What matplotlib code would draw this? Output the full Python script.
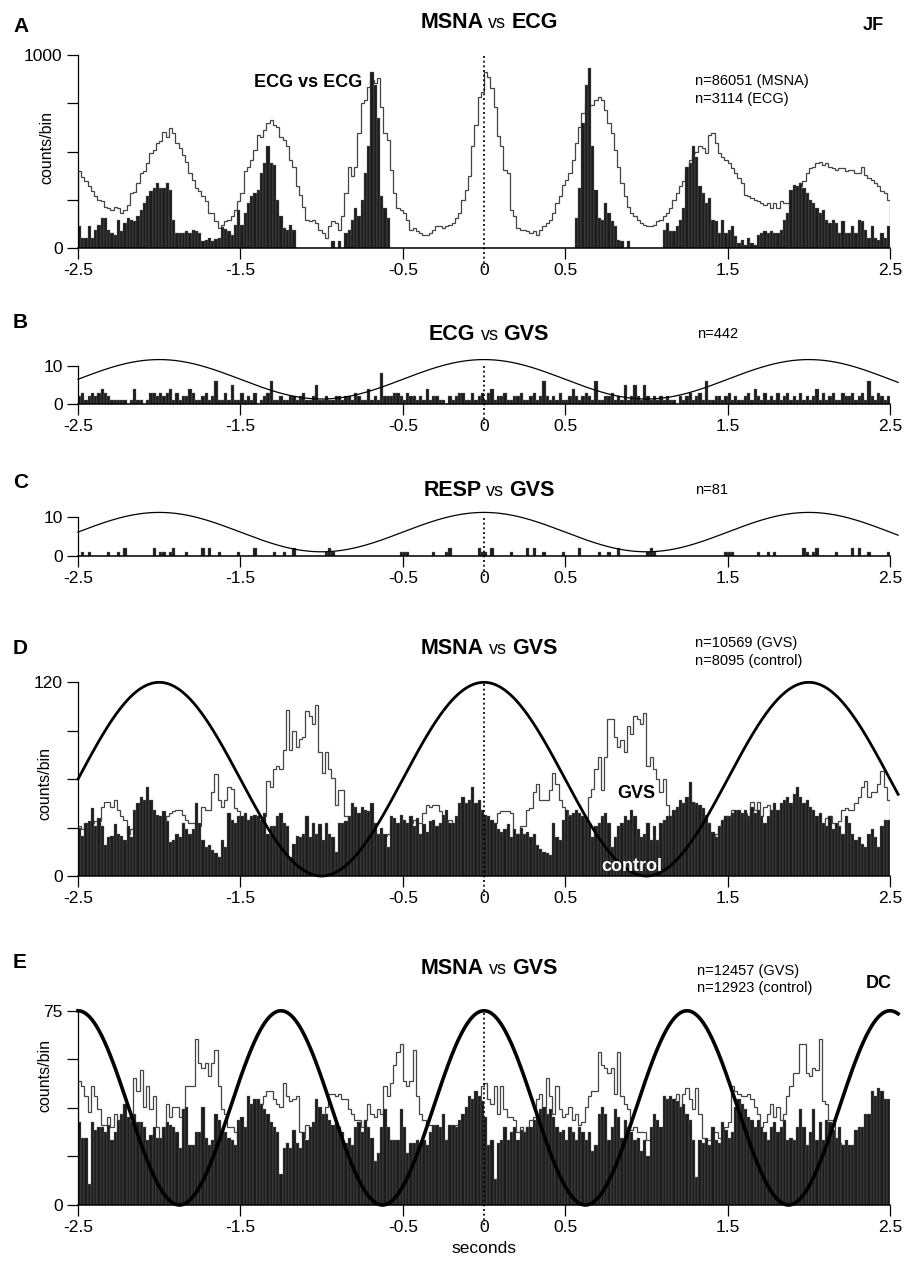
import numpy as np
import matplotlib
matplotlib.use('Agg')
import matplotlib.pyplot as plt

plt.rcParams['font.family'] = ['Liberation Sans', 'DejaVu Sans']
plt.rcParams['axes.unicode_minus'] = False

# ---------------- data: counts per 20 ms bin, -2.5 .. 2.5 s (250 bins) ----------------
bin_width = 0.02
x_ticks = [-2.5, -1.5, -0.5, 0, 0.5, 1.5, 2.5]
x_ticklabels = ['-2.5', '-1.5', '-0.5', '0', '0.5', '1.5', '2.5']

# A: MSNA vs ECG (outline) and ECG vs ECG (filled)
msna_ecg = [397, 370, 345, 319, 293, 267, 250, 241, 215, 207,
            195, 215, 207, 181, 198, 224, 284, 288, 336, 388,
            397, 440, 491, 509, 543, 552, 603, 577, 620, 595,
            543, 517, 483, 448, 388, 353, 310, 293, 267, 241,
            181, 181, 138, 103, 121, 138, 147, 164, 198, 241,
            284, 397, 422, 457, 509, 586, 577, 612, 646, 664,
            638, 629, 577, 560, 526, 457, 422, 319, 276, 215,
            147, 138, 147, 129, 95, 78, 52, 112, 138, 129,
            95, 164, 284, 422, 371, 422, 595, 750, 767, 836,
            871, 853, 879, 733, 595, 560, 405, 284, 207, 198,
            181, 147, 95, 103, 86, 78, 69, 69, 78, 95,
            112, 112, 103, 112, 121, 129, 155, 181, 250, 302,
            371, 526, 638, 784, 810, 914, 888, 828, 733, 578,
            526, 405, 388, 198, 164, 103, 95, 95, 86, 78,
            86, 69, 95, 112, 129, 147, 181, 233, 267, 328,
            353, 388, 457, 543, 629, 698, 750, 741, 741, 767,
            784, 767, 715, 646, 595, 509, 422, 336, 267, 215,
            181, 164, 147, 129, 121, 112, 112, 121, 138, 147,
            164, 181, 207, 250, 284, 319, 345, 388, 457, 491,
            500, 526, 517, 491, 586, 595, 543, 491, 474, 457,
            440, 414, 388, 362, 336, 276, 267, 259, 250, 241,
            233, 224, 233, 207, 233, 207, 241, 233, 233, 241,
            250, 302, 319, 345, 388, 414, 422, 440, 448, 431,
            440, 422, 414, 405, 414, 414, 397, 405, 405, 388,
            388, 422, 379, 362, 353, 336, 319, 293, 284, 250]

ecg_ecg = [112, 52, 52, 112, 52, 95, 121, 155, 155, 95,
           78, 69, 147, 86, 129, 155, 147, 138, 164, 198,
           233, 267, 293, 310, 336, 310, 310, 336, 302, 147,
           78, 78, 78, 86, 78, 95, 86, 78, 34, 43,
           52, 34, 47, 52, 109, 98, 86, 69, 121, 198,
           121, 181, 233, 267, 284, 302, 388, 440, 526, 440,
           431, 250, 164, 103, 95, 121, 95, 0, 0, 0,
           0, 0, 0, 0, 0, 0, 0, 0, 34, 0,
           34, 0, 78, 95, 147, 207, 164, 250, 388, 526,
           914, 845, 672, 267, 207, 155, 0, 0, 0, 0,
           0, 0, 0, 0, 0, 0, 0, 0, 0, 0,
           0, 0, 0, 0, 0, 0, 0, 0, 0, 0,
           0, 0, 0, 0, 0, 0, 0, 0, 0, 0,
           0, 0, 0, 0, 0, 0, 0, 0, 0, 0,
           0, 0, 0, 0, 0, 0, 0, 0, 0, 0,
           0, 0, 0, 155, 310, 646, 845, 931, 526, 302,
           155, 147, 233, 181, 138, 112, 43, 34, 0, 34,
           0, 0, 0, 0, 0, 0, 0, 0, 0, 0,
           95, 129, 86, 86, 112, 147, 207, 422, 440, 526,
           474, 319, 284, 233, 259, 147, 138, 78, 147, 78,
           95, 112, 60, 26, 43, 17, 52, 26, 17, 69,
           78, 86, 78, 86, 78, 78, 95, 147, 181, 302,
           328, 319, 336, 310, 284, 250, 233, 207, 181, 198,
           147, 129, 147, 129, 78, 138, 78, 78, 112, 78,
           147, 138, 95, 52, 112, 52, 43, 78, 52, 112]

# B: ECG vs GVS
ecg_gvs = [2, 3, 1, 2, 3, 2, 3, 4, 3, 2,
           1, 1, 1, 1, 1, 0, 1, 4, 1, 1,
           0, 1, 3, 3, 2, 3, 2, 3, 4, 1,
           3, 1, 2, 2, 4, 3, 1, 1, 2, 3,
           1, 2, 6, 1, 1, 3, 1, 5, 1, 1,
           3, 1, 2, 1, 3, 0, 1, 2, 3, 6,
           1, 1, 2, 1, 1, 2, 2, 1, 2, 3,
           1, 1, 2, 5, 1, 1, 2, 1, 1, 2,
           2, 1, 2, 2, 1, 3, 2, 1, 1, 4,
           1, 2, 1, 8, 2, 2, 2, 3, 3, 2,
           1, 3, 2, 2, 1, 2, 1, 4, 1, 2,
           2, 1, 1, 0, 2, 1, 2, 3, 3, 1,
           1, 3, 1, 2, 3, 1, 3, 4, 1, 2,
           2, 3, 1, 1, 2, 2, 3, 1, 1, 2,
           3, 1, 2, 6, 2, 1, 2, 1, 3, 1,
           1, 2, 4, 2, 1, 2, 3, 2, 1, 6,
           1, 1, 2, 2, 3, 1, 2, 1, 5, 1,
           2, 5, 2, 1, 5, 2, 1, 2, 1, 2,
           1, 2, 1, 1, 0, 2, 1, 2, 3, 1,
           2, 3, 1, 6, 1, 1, 2, 2, 1, 2,
           3, 1, 2, 1, 1, 2, 3, 1, 4, 2,
           1, 3, 1, 2, 1, 3, 1, 2, 3, 1,
           2, 1, 3, 1, 2, 1, 2, 4, 1, 3,
           1, 2, 3, 1, 1, 3, 2, 2, 3, 1,
           2, 3, 1, 6, 2, 1, 3, 2, 1, 2]

# C: RESP vs GVS
resp_gvs = [0, 1, 0, 1, 0, 0, 0, 0, 0, 1,
            0, 0, 1, 0, 2, 0, 0, 0, 0, 0,
            0, 0, 0, 2, 0, 1, 1, 0, 1, 2,
            0, 0, 0, 1, 0, 0, 0, 0, 2, 0,
            2, 0, 0, 1, 0, 0, 0, 0, 0, 1,
            0, 0, 0, 0, 2, 0, 0, 0, 0, 0,
            1, 0, 0, 1, 0, 0, 2, 0, 0, 0,
            0, 0, 0, 0, 0, 0, 1, 2, 1, 0,
            0, 0, 0, 0, 0, 0, 0, 0, 0, 0,
            0, 0, 0, 0, 0, 0, 0, 0, 0, 1,
            1, 1, 0, 0, 0, 0, 0, 0, 0, 1,
            0, 0, 0, 1, 2, 0, 0, 0, 0, 0,
            0, 0, 0, 2, 1, 1, 0, 2, 0, 0,
            0, 0, 0, 1, 0, 0, 0, 0, 2, 0,
            2, 0, 0, 1, 0, 0, 0, 0, 0, 1,
            0, 0, 0, 0, 2, 0, 0, 0, 0, 0,
            1, 0, 0, 1, 0, 0, 2, 0, 0, 0,
            0, 0, 0, 0, 0, 1, 2, 1, 0, 0,
            0, 0, 0, 0, 0, 0, 0, 0, 0, 0,
            0, 0, 0, 0, 0, 0, 0, 0, 0, 1,
            1, 1, 0, 0, 0, 0, 0, 0, 0, 1,
            0, 0, 1, 0, 1, 0, 0, 0, 0, 0,
            0, 0, 0, 2, 1, 0, 1, 2, 0, 0,
            0, 0, 0, 1, 0, 0, 0, 0, 2, 0,
            2, 0, 0, 1, 0, 0, 0, 0, 0, 1]

# D: MSNA vs GVS (0.5 Hz), GVS outline and control filled
d_gvs = [31, 29, 32, 33, 33, 34, 34, 43, 46, 46,
         43, 47, 41, 37, 35, 26, 29, 31, 33, 31,
         31, 29, 26, 26, 31, 31, 33, 37, 39, 40,
         41, 41, 38, 35, 33, 33, 30, 31, 43, 41,
         41, 52, 63, 47, 43, 47, 55, 54, 42, 40,
         36, 35, 35, 36, 37, 37, 36, 37, 59, 55,
         66, 68, 66, 78, 103, 78, 90, 80, 85, 86,
         102, 99, 94, 106, 77, 64, 77, 66, 61, 44,
         53, 53, 37, 35, 33, 32, 33, 34, 35, 33,
         32, 26, 24, 26, 25, 26, 29, 27, 26, 29,
         29, 31, 33, 35, 33, 33, 39, 44, 43, 44,
         44, 40, 37, 33, 35, 31, 29, 31, 29, 26,
         26, 24, 25, 26, 25, 26, 27, 29, 33, 39,
         40, 40, 40, 39, 26, 26, 31, 31, 41, 42,
         52, 57, 47, 47, 47, 53, 64, 57, 47, 43,
         41, 38, 37, 36, 35, 34, 33, 49, 54, 66,
         74, 53, 74, 97, 97, 86, 80, 84, 77, 93,
         88, 99, 97, 94, 101, 68, 74, 66, 60, 52,
         60, 44, 37, 33, 31, 29, 29, 26, 26, 27,
         26, 26, 25, 24, 26, 24, 26, 30, 33, 37,
         37, 41, 37, 37, 34, 39, 37, 46, 41, 46,
         37, 43, 44, 36, 41, 37, 29, 26, 26, 27,
         29, 30, 31, 32, 33, 33, 33, 31, 33, 31,
         36, 37, 33, 31, 34, 41, 42, 41, 41, 45,
         49, 55, 59, 49, 52, 52, 57, 65, 55, 47]

d_control = [30, 25, 33, 34, 42, 31, 36, 31, 19, 24,
             25, 32, 26, 25, 22, 31, 24, 41, 45, 49,
             47, 55, 47, 41, 38, 37, 40, 34, 21, 22,
             26, 24, 33, 29, 26, 29, 45, 33, 22, 18,
             19, 16, 14, 12, 22, 18, 39, 35, 33, 37,
             37, 39, 35, 37, 38, 37, 35, 39, 26, 31,
             31, 37, 39, 33, 31, 12, 20, 25, 24, 26,
             37, 24, 33, 26, 32, 22, 33, 26, 24, 15,
             33, 33, 34, 37, 45, 43, 39, 43, 41, 40,
             45, 33, 26, 30, 26, 18, 37, 36, 33, 38,
             35, 33, 37, 31, 36, 26, 32, 27, 34, 35,
             31, 33, 38, 41, 33, 33, 37, 45, 49, 45,
             47, 55, 45, 47, 41, 38, 37, 35, 33, 29,
             27, 29, 32, 24, 29, 26, 30, 26, 27, 24,
             26, 19, 17, 15, 14, 13, 33, 24, 22, 35,
             41, 37, 39, 41, 39, 37, 36, 33, 24, 31,
             33, 37, 39, 33, 18, 24, 31, 33, 37, 35,
             41, 37, 29, 24, 26, 33, 22, 31, 22, 33,
             35, 37, 37, 41, 43, 47, 45, 49, 58, 46,
             45, 44, 42, 38, 33, 27, 24, 31, 35, 37,
             37, 39, 41, 41, 39, 41, 37, 43, 39, 41,
             37, 33, 37, 41, 45, 41, 45, 47, 49, 45,
             51, 55, 49, 45, 47, 43, 41, 37, 39, 33,
             31, 37, 29, 33, 31, 26, 37, 33, 26, 22,
             24, 20, 18, 26, 29, 24, 18, 31, 35, 35]

# E: MSNA vs GVS (0.8 Hz), GVS outline and control filled
e_gvs = [48, 46, 42, 36, 46, 42, 37, 31, 31, 34,
         30, 35, 29, 23, 25, 28, 35, 49, 44, 52,
         38, 46, 37, 42, 30, 25, 25, 39, 34, 38,
         38, 34, 37, 46, 46, 46, 64, 55, 53, 55,
         50, 55, 60, 46, 37, 35, 30, 30, 28, 26,
         25, 25, 33, 35, 38, 39, 39, 42, 44, 44,
         41, 39, 38, 47, 42, 40, 41, 42, 28, 26,
         31, 29, 25, 28, 29, 26, 38, 43, 43, 42,
         43, 41, 41, 37, 35, 33, 33, 30, 33, 39,
         35, 34, 37, 35, 46, 42, 47, 54, 59, 62,
         48, 46, 48, 60, 42, 35, 33, 31, 31, 28,
         24, 20, 24, 25, 26, 27, 31, 28, 33, 30,
         35, 33, 38, 36, 46, 47, 41, 39, 46, 35,
         46, 37, 34, 34, 33, 28, 30, 28, 30, 33,
         34, 41, 43, 35, 49, 42, 35, 46, 37, 34,
         35, 38, 33, 35, 31, 32, 38, 42, 44, 44,
         59, 54, 53, 51, 53, 43, 59, 42, 39, 37,
         29, 30, 28, 28, 28, 25, 25, 28, 28, 29,
         30, 33, 35, 41, 43, 38, 43, 45, 41, 37,
         45, 35, 26, 25, 25, 28, 28, 26, 25, 30,
         32, 46, 44, 43, 42, 42, 43, 41, 38, 35,
         30, 32, 35, 39, 34, 38, 33, 35, 42, 46,
         51, 51, 62, 62, 51, 50, 53, 52, 64, 40,
         39, 33, 33, 26, 24, 23, 22, 20, 20, 24,
         27, 25, 29, 31, 28, 33, 30, 35, 32, 34]

e_control = [32, 26, 26, 8, 32, 29, 30, 30, 28, 31,
             25, 28, 33, 35, 39, 34, 32, 35, 32, 32,
             30, 25, 27, 30, 26, 26, 30, 32, 31, 30,
             28, 22, 37, 38, 23, 23, 28, 28, 38, 26,
             23, 25, 35, 33, 29, 28, 26, 25, 23, 33,
             34, 30, 42, 39, 41, 41, 39, 37, 35, 32,
             30, 28, 12, 22, 24, 22, 29, 24, 22, 28,
             25, 30, 32, 41, 38, 35, 35, 33, 31, 32,
             30, 28, 24, 26, 23, 30, 32, 28, 33, 30,
             26, 17, 20, 30, 37, 30, 25, 25, 25, 37,
             30, 20, 24, 24, 25, 24, 25, 23, 28, 31,
             31, 30, 35, 25, 31, 31, 30, 33, 35, 38,
             42, 41, 44, 42, 40, 34, 23, 25, 10, 24,
             25, 30, 25, 28, 30, 25, 29, 28, 30, 30,
             33, 35, 37, 38, 35, 37, 34, 30, 28, 29,
             25, 30, 28, 25, 30, 28, 25, 28, 21, 23,
             35, 38, 35, 25, 30, 37, 34, 26, 33, 30,
             28, 25, 26, 21, 25, 19, 30, 35, 33, 30,
             42, 41, 42, 41, 40, 38, 39, 35, 33, 25,
             11, 25, 24, 26, 23, 30, 25, 24, 32, 29,
             26, 28, 38, 41, 39, 37, 34, 33, 30, 33,
             30, 28, 25, 30, 32, 28, 30, 33, 25, 26,
             25, 30, 37, 30, 23, 28, 37, 25, 32, 25,
             33, 32, 29, 26, 30, 23, 25, 23, 23, 29,
             30, 30, 35, 35, 44, 42, 45, 44, 41, 41]

# sinusoidal GVS stimulus drawn over each panel: (period s, min, max)
stim_b = (2.0, 1.3, 11.6)
stim_c = (2.0, 1.0, 11.1)
stim_d = (2.0, 0.0, 120.0)
stim_e = (1.25, 0.0, 75.0)

for series in [msna_ecg, ecg_ecg, ecg_gvs, resp_gvs, d_gvs, d_control, e_gvs, e_control]:
    assert len(series) == 250, len(series)

edges = -2.5 + bin_width * np.arange(251)
centers = edges[:-1] + bin_width / 2

# ---------------- figure ----------------
W, H = 908, 1265
fig = plt.figure(figsize=(W / 100, H / 100), dpi=100)
BAR = dict(width=bin_width, color='#1d1d1d', edgecolor='#707070', linewidth=0.25, zorder=2)


def px_text(x, y, s, **kw):
    return fig.text(x / W, 1 - y / H, s, **kw)


def make_axes(y0, px_per_unit, ymax, ytop_tick, yticks, yticklabels):
    height = ymax * px_per_unit
    ax = fig.add_axes([78 / W, 1 - y0 / H, 812 / W, height / H])
    ax.set_xlim(-2.5, 2.5)
    ax.set_ylim(0, ymax)
    for s in ['top', 'right']:
        ax.spines[s].set_visible(False)
    ax.spines['left'].set_bounds(0, ytop_tick)
    ax.spines['left'].set_linewidth(0.9)
    ax.spines['bottom'].set_linewidth(1.1)
    ax.set_yticks(yticks)
    ax.set_yticklabels(yticklabels)
    ax.set_xticks(x_ticks)
    ax.set_xticklabels(x_ticklabels)
    ax.tick_params(axis='both', direction='out', length=8, width=0.9, labelsize=12.5, pad=3)
    ax.xaxis.get_major_ticks()[3].tick1line.set_visible(False)
    ax.patch.set_visible(False)
    # dotted zero line running below the axis
    ax.plot([0, 0], [-20 / px_per_unit, ytop_tick], ls=(0, (1.2, 1.6)), lw=1.2,
            color='black', clip_on=False, zorder=6)
    return ax


def stim_curve(ax, stim, lw):
    period, lo, hi = stim
    t = np.linspace(-2.5, 2.55, 800)
    ax.plot(t, lo + (hi - lo) * (1 + np.cos(2 * np.pi * t / period)) / 2,
            color='black', lw=lw, clip_on=False, zorder=5)


def title_parts(cx, base_y, parts, gap=5):
    r = fig.canvas.get_renderer()
    objs = [px_text(0, base_y, s, fontsize=fs, fontweight=w, va='baseline', ha='left')
            for s, w, fs in parts]
    widths = [o.get_window_extent(r).width for o in objs]
    total = sum(widths) + gap * (len(objs) - 1)
    x = cx - total / 2
    for o, w in zip(objs, widths):
        o.set_x(x / W)
        x += w + gap


# ---- A ----
axA = make_axes(248, 0.193, 1000, 1000, [0, 250, 500, 750, 1000], ['0', '', '', '', '1000'])
axA.stairs(msna_ecg, edges, baseline=0, fill=False, color='#444444', lw=0.9, zorder=1)
axA.bar(centers, ecg_ecg, **BAR)
axA.text(-1.08, 860, 'ECG vs ECG', fontsize=13, fontweight='bold', ha='center', va='center')
px_text(47, 148, 'counts/bin', rotation=90, fontsize=11.5, ha='center', va='center')
px_text(13, 27, 'A', fontsize=15, fontweight='bold', va='center')
title_parts(489, 28, [('MSNA', 'bold', 15.5), ('vs', 'normal', 13), ('ECG', 'bold', 15.5)])
px_text(873, 25, 'JF', fontsize=13, fontweight='bold', ha='center', va='center')
px_text(695, 81, 'n=86051 (MSNA)', fontsize=10.5, va='center')
px_text(695, 99, 'n=3114 (ECG)', fontsize=10.5, va='center')

# ---- B ----
axB = make_axes(404, 3.83, 12, 10, [0, 10], ['0', '10'])
axB.bar(centers, ecg_gvs, **BAR)
stim_curve(axB, stim_b, 0.9)
px_text(13, 322, 'B', fontsize=15, fontweight='bold', va='center')
title_parts(489, 340, [('ECG', 'bold', 15.5), ('vs', 'normal', 13), ('GVS', 'bold', 15.5)])
px_text(697, 334, 'n=442', fontsize=10.5, va='center')

# ---- C ----
axC = make_axes(555.7, 3.9, 12, 10, [0, 10], ['0', '10'])
axC.bar(centers, resp_gvs, **BAR)
stim_curve(axC, stim_c, 0.9)
px_text(13, 483, 'C', fontsize=15, fontweight='bold', va='center')
title_parts(489, 496, [('RESP', 'bold', 15.5), ('vs', 'normal', 13), ('GVS', 'bold', 15.5)])
px_text(695, 490, 'n=81', fontsize=10.5, va='center')

# ---- D ----
axD = make_axes(876, 1.614, 120, 120, [0, 30, 60, 90, 120], ['0', '', '', '', '120'])
axD.stairs(d_gvs, edges, baseline=0, fill=False, color='#444444', lw=0.9, zorder=1)
axD.bar(centers, d_control, **BAR)
stim_curve(axD, stim_d, 2.0)
axD.text(0.94, 51, 'GVS', fontsize=13, fontweight='bold', ha='center', va='center', zorder=7)
axD.text(0.91, 6, 'control', fontsize=13, fontweight='bold', color='white',
         ha='center', va='center', zorder=7)
px_text(45, 783, 'counts/bin', rotation=90, fontsize=11.5, ha='center', va='center')
px_text(13, 648, 'D', fontsize=15, fontweight='bold', va='center')
title_parts(489, 654, [('MSNA', 'bold', 15.5), ('vs', 'normal', 13), ('GVS', 'bold', 15.5)])
px_text(695, 643, 'n=10569 (GVS)', fontsize=10.5, va='center')
px_text(695, 661, 'n=8095 (control)', fontsize=10.5, va='center')

# ---- E ----
axE = make_axes(1205, 2.59, 75, 75, [0, 18.75, 37.5, 56.25, 75], ['0', '', '', '', '75'])
axE.stairs(e_gvs, edges, baseline=0, fill=False, color='#444444', lw=0.9, zorder=1)
axE.bar(centers, e_control, **BAR)
stim_curve(axE, stim_e, 2.6)
axE.set_xlabel('seconds', fontsize=12.5, labelpad=4)
px_text(45, 1075, 'counts/bin', rotation=90, fontsize=11.5, ha='center', va='center')
px_text(13, 963, 'E', fontsize=15, fontweight='bold', va='center')
title_parts(489, 974, [('MSNA', 'bold', 15.5), ('vs', 'normal', 13), ('GVS', 'bold', 15.5)])
px_text(697, 971, 'n=12457 (GVS)', fontsize=10.5, va='center')
px_text(697, 988, 'n=12923 (control)', fontsize=10.5, va='center')
px_text(879, 983, 'DC', fontsize=13, fontweight='bold', ha='center', va='center')

fig.savefig('out.png', dpi=100)
